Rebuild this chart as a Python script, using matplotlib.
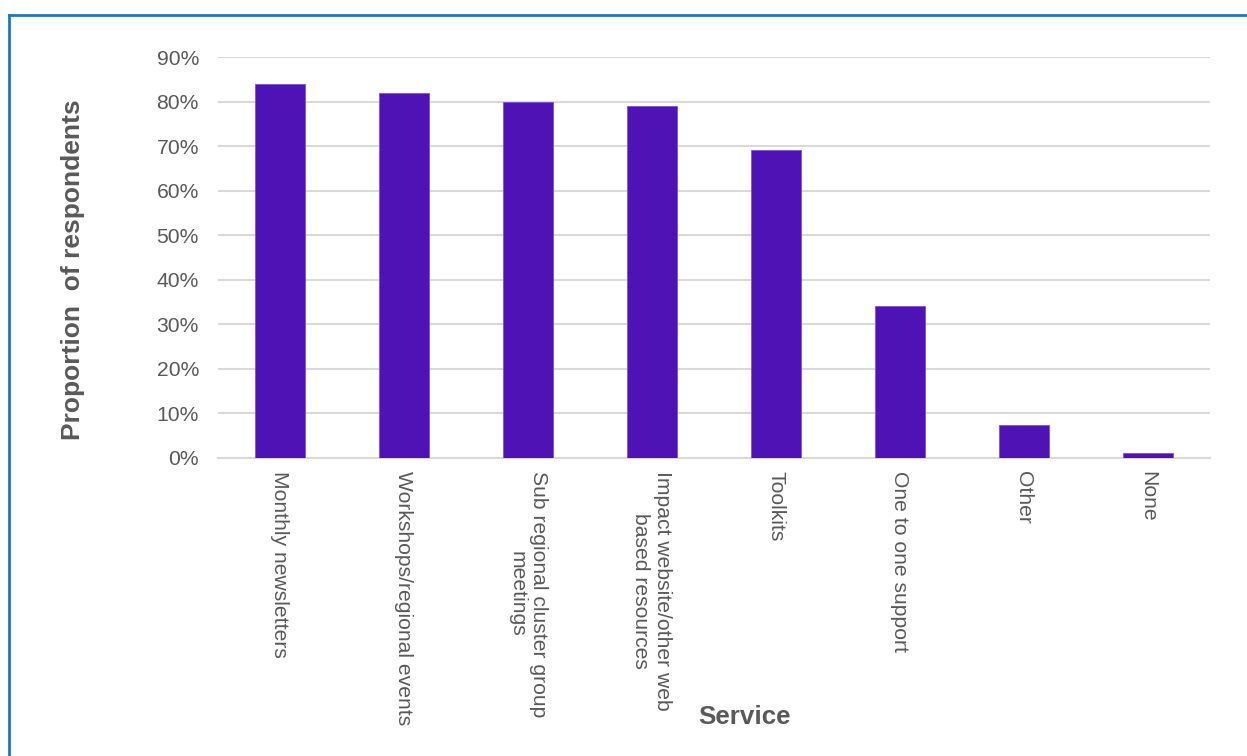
import numpy as np
import matplotlib.pyplot as plt
from matplotlib.lines import Line2D
from matplotlib.ticker import PercentFormatter

services = ['Monthly newsletters', 'Workshops/regional events',
            'Sub regional cluster group\nmeetings',
            'Impact website/other web\nbased resources',
            'Toolkits', 'One to one support', 'Other', 'None']
proportion = [84.0, 82.0, 80.0, 79.0, 69.2, 34.1, 7.4, 1.1]
y_ticks = [0, 10, 20, 30, 40, 50, 60, 70, 80, 90]

plt.rcParams['font.family'] = ['Liberation Sans', 'DejaVu Sans']
grey = '#595959'

fig = plt.figure(figsize=(12.47, 7.56), dpi=100)
ax = fig.add_axes([0.1748, 0.3942, 0.7955, 0.5304])

x = np.arange(len(services))
ax.bar(x, proportion, width=0.4, color='#4F13B5', edgecolor='#7A4FE0', linewidth=0.6, zorder=3)

ax.set_xlim(-0.5, len(services) - 0.5)
ax.set_ylim(0, 90)
ax.set_yticks(y_ticks)
ax.yaxis.set_major_formatter(PercentFormatter(decimals=0))
ax.grid(axis='y', color='#D9D9D9', linewidth=1.5, zorder=0)
ax.set_axisbelow(True)

for side in ['top', 'right', 'left']:
    ax.spines[side].set_visible(False)
ax.spines['bottom'].set_color('#D9D9D9')
ax.spines['bottom'].set_linewidth(1.5)

ax.tick_params(axis='both', length=0, colors=grey, labelsize=15.2)
ax.tick_params(axis='y', pad=13.7)
ax.set_xticks(x)
ax.set_xticklabels(services, rotation=-90, ha='center', va='top',
                   multialignment='center', fontsize=15.2)
ax.tick_params(axis='x', pad=9.5)

ax.set_ylabel('Proportion  of respondents', fontsize=19, fontweight='bold', color=grey)
ax.yaxis.set_label_coords(-0.134, 0.47)
ax.set_xlabel('Service', fontsize=18.7, fontweight='bold', color=grey)
ax.xaxis.set_label_coords(0.531, -0.616)

# outer frame
fig.add_artist(Line2D([9/1247, 1.0], [1 - 14.5/756] * 2, transform=fig.transFigure,
                      color='#1878C8', linewidth=2))
fig.add_artist(Line2D([9/1247] * 2, [0, 1 - 14.5/756], transform=fig.transFigure,
                      color='#1878C8', linewidth=2))

fig.savefig('out.png', dpi=100)
